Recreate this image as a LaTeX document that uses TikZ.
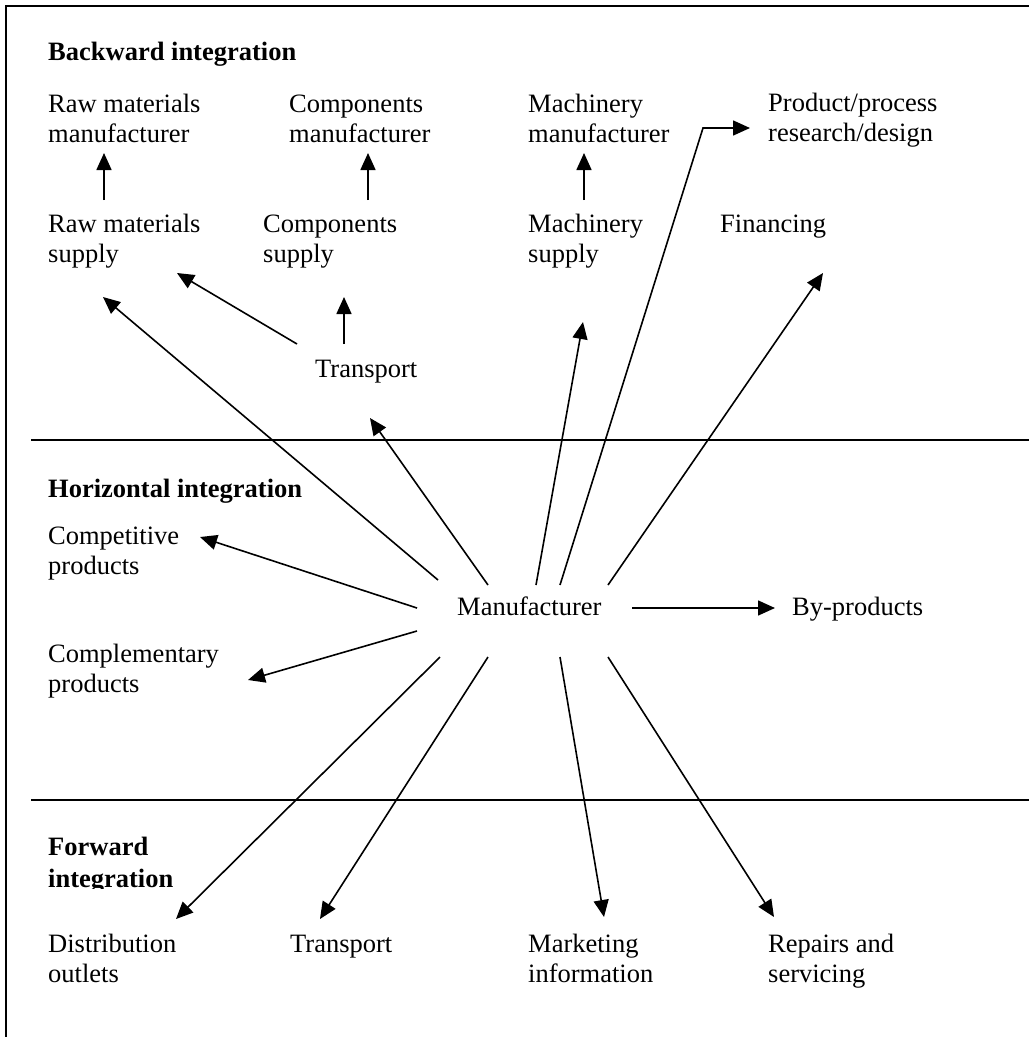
\documentclass[tikz,border=0pt]{standalone}
\usepackage{fontspec}
\setmainfont{Liberation Serif}
\usetikzlibrary{arrows.meta}
\begin{document}
\begin{tikzpicture}[x=1pt,y=-1pt,
  lbl/.style={anchor=base west,inner sep=0pt,align=left,font=\fontsize{26.5}{30}\selectfont},
  head/.style={anchor=base west,inner sep=0pt,align=left,font=\fontsize{26.5}{32}\selectfont\bfseries},
  link/.style={line width=1.6pt,-{Triangle[length=17pt,width=15pt]}},
  rule/.style={line width=2pt}]
\useasboundingbox (0,0) rectangle (1029,1037);

% frame and section dividers
\draw[rule] (6,1037) -- (6,6) -- (1029,6);
\draw[rule] (31,440) -- (1029,440);
\draw[rule] (31,800) -- (1029,800);

% section headings (multi-line nodes sit on the baseline of their last line)
\node[head] (hback) at (48,60) {Backward integration};
\node[head] (hhor) at (48,497) {Horizontal integration};
\begin{scope}
  \clip (0,0) rectangle (1029,888);
  \node[head] (hfwd) at (48,887) {Forward\\integration};
\end{scope}

% backward integration
\node[lbl] (rawman) at (48,142) {Raw materials\\manufacturer};
\node[lbl] (compman) at (289,142) {Components\\manufacturer};
\node[lbl] (machman) at (528,142) {Machinery\\manufacturer};
\node[lbl] (prod) at (768,141) {Product/process\\research/design};
\node[lbl] (rawsup) at (48,262) {Raw materials\\supply};
\node[lbl] (compsup) at (263,262) {Components\\supply};
\node[lbl] (machsup) at (528,262) {Machinery\\supply};
\node[lbl] (fin) at (720,232) {Financing};
\node[lbl] (trans) at (315,377) {Transport};

% horizontal integration
\node[lbl] (compet) at (48,574) {Competitive\\products};
\node[lbl] (compl) at (48,692) {Complementary\\products};
\node[lbl] (mfr) at (457,615) {Manufacturer};
\node[lbl] (byp) at (792,615) {By-products};

% forward integration
\node[lbl] (dist) at (48,982) {Distribution\\outlets};
\node[lbl] (ftrans) at (290,952) {Transport};
\node[lbl] (mkt) at (528,982) {Marketing\\information};
\node[lbl] (rep) at (768,982) {Repairs and\\servicing};

% connector end points
\coordinate (rawman-in) at (104,153);
\coordinate (rawsup-up) at (104,200);
\coordinate (compman-in) at (368,153);
\coordinate (compsup-up) at (368,200);
\coordinate (machman-in) at (584,153);
\coordinate (machsup-up) at (584,200);
\coordinate (trans-up) at (344,344);
\coordinate (compsup-in) at (344,297);
\coordinate (trans-left) at (297,344);
\coordinate (rawsup-in1) at (177,273);
\coordinate (rawsup-in2) at (103,297);
\coordinate (trans-in) at (370,418);
\coordinate (compet-in) at (200,537);
\coordinate (compl-in) at (248,680);
\coordinate (machsup-in) at (583,322);
\coordinate (prod-bend) at (703,128);
\coordinate (prod-in) at (750,128);
\coordinate (fin-in) at (823,273);
\coordinate (byp-in) at (775,608);
\coordinate (dist-in) at (176,919);
\coordinate (ftrans-in) at (320,919);
\coordinate (mkt-in) at (604,917);
\coordinate (rep-in) at (774,917);

\coordinate (mfr-a) at (438,580);
\coordinate (mfr-b) at (488,585);
\coordinate (mfr-c) at (417,608);
\coordinate (mfr-d) at (417,631);
\coordinate (mfr-e) at (536,585);
\coordinate (mfr-f) at (560,585);
\coordinate (mfr-g) at (608,585);
\coordinate (mfr-h) at (632,608);
\coordinate (mfr-i) at (440,657);
\coordinate (mfr-j) at (488,657);
\coordinate (mfr-k) at (560,657);
\coordinate (mfr-l) at (608,657);

% supply chain links
\draw[link] (rawsup-up) -- (rawman-in);
\draw[link] (compsup-up) -- (compman-in);
\draw[link] (machsup-up) -- (machman-in);
\draw[link] (trans-up) -- (compsup-in);
\draw[link] (trans-left) -- (rawsup-in1);

% links from the manufacturer
\draw[link] (mfr-a) -- (rawsup-in2);
\draw[link] (mfr-b) -- (trans-in);
\draw[link] (mfr-c) -- (compet-in);
\draw[link] (mfr-d) -- (compl-in);
\draw[link] (mfr-e) -- (machsup-in);
\draw[link] (mfr-f) -- (prod-bend) -- (prod-in);
\draw[link] (mfr-g) -- (fin-in);
\draw[link] (mfr-h) -- (byp-in);
\draw[link] (mfr-i) -- (dist-in);
\draw[link] (mfr-j) -- (ftrans-in);
\draw[link] (mfr-k) -- (mkt-in);
\draw[link] (mfr-l) -- (rep-in);
\end{tikzpicture}
\end{document}
